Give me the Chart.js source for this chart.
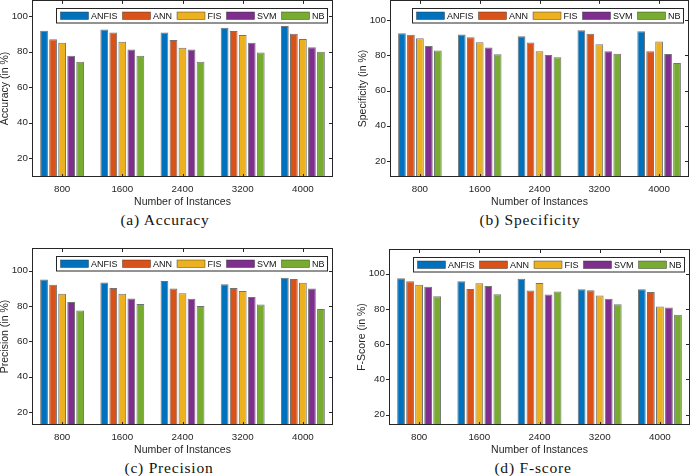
<!DOCTYPE html>
<html lang="en">
<head>
<meta charset="UTF-8">
<title>Performance comparison</title>
<style>
    body {
        margin: 0;
        width: 690px;
        height: 476px;
        background: #fff;
        position: relative;
        overflow: hidden;
        font-family: 'Liberation Sans', Arial, sans-serif;
    }
    canvas {
        position: absolute;
    }
    .caption {
        position: absolute;
        transform: translate(-50%, -50%);
        font-family: 'Liberation Serif', serif;
        font-size: 15.5px;
        letter-spacing: 0.8px;
        color: #111;
        white-space: nowrap;
    }
</style>
<script src="https://cdn.jsdelivr.net/npm/chart.js"></script>
</head>
<body>
<canvas id="accChart" width="345" height="218" style="left:0px;top:-10px"></canvas>
<canvas id="specChart" width="332" height="218" style="left:358px;top:-10px"></canvas>
<canvas id="precChart" width="345" height="218" style="left:0px;top:238px"></canvas>
<canvas id="fChart" width="333" height="218" style="left:357px;top:238px"></canvas>

<div class="caption" style="left:165px;top:220px">(a) Accuracy</div>
<div class="caption" style="left:530px;top:220px">(b) Specificity</div>
<div class="caption" style="left:169px;top:468px">(c) Precision</div>
<div class="caption" style="left:533px;top:468px">(d) F-score</div>

<script>
// data
const instances = ['800', '1600', '2400', '3200', '4000'];
const methods = ['ANFIS', 'ANN', 'FIS', 'SVM', 'NB'];
const yTicks = [20, 40, 60, 80, 100];

// rows = methods (ANFIS, ANN, FIS, SVM, NB), columns = instances
const accuracy = [
    [91.9, 92.5, 90.8, 93.6, 94.5],
    [87.0, 90.8, 86.6, 91.7, 90.2],
    [85.1, 85.7, 82.3, 89.4, 87.2],
    [77.7, 81.3, 81.3, 85.1, 82.5],
    [74.3, 77.7, 74.3, 79.6, 80.0]
];
const specificity = [
    [92.6, 91.9, 90.9, 94.3, 93.8],
    [91.7, 90.4, 87.4, 92.3, 82.3],
    [89.8, 87.5, 82.3, 86.4, 87.9],
    [85.3, 84.5, 80.2, 82.3, 80.8],
    [82.8, 80.6, 78.9, 80.9, 75.7]
];
const precision = [
    [95.1, 93.4, 94.2, 92.3, 96.1],
    [92.1, 90.2, 90.0, 90.2, 95.3],
    [87.0, 87.0, 87.2, 88.5, 93.2],
    [82.3, 84.3, 84.2, 85.1, 90.0],
    [77.5, 81.1, 80.0, 80.9, 78.3]
];
const fscore = [
    [97.4, 95.7, 97.0, 91.1, 91.1],
    [95.7, 91.3, 90.4, 90.6, 89.6],
    [93.6, 94.5, 94.7, 87.5, 81.3],
    [92.5, 93.0, 88.1, 85.7, 80.8],
    [87.2, 88.3, 89.8, 82.6, 76.6]
];

const colors = ['#0072BD', '#D95319', '#EDB120', '#7E2F8E', '#77AC30'];
const axisColor = '#262626';

// box around the plot with matlab style ticks
const framePlugin = {
    id: 'frame',
    afterDatasetsDraw(chart) {
        const ctx = chart.ctx;
        const a = chart.chartArea;
        const x = chart.scales.x, y = chart.scales.y;
        ctx.save();
        ctx.strokeStyle = axisColor;
        ctx.lineWidth = 1;
        ctx.strokeRect(Math.round(a.left) + 0.5, Math.round(a.top) + 0.5,
            Math.round(a.right - a.left) - 1, Math.round(a.bottom - a.top) - 1);
        ctx.beginPath();
        y.ticks.forEach(t => {
            const py = Math.round(y.getPixelForValue(t.value)) + 0.5;
            ctx.moveTo(a.left - 3, py); ctx.lineTo(a.left, py);
            ctx.moveTo(a.right - 4, py); ctx.lineTo(a.right, py);
        });
        instances.forEach((c, i) => {
            const px = Math.round(x.getPixelForValue(i)) + 0.5;
            ctx.moveTo(px, a.bottom); ctx.lineTo(px, a.bottom - 3);
            ctx.moveTo(px, a.top); ctx.lineTo(px, a.top + 4);
        });
        ctx.stroke();
        ctx.restore();
    }
};

// horizontal boxed legend in the top right corner
const legendPlugin = {
    id: 'boxLegend',
    afterDraw(chart) {
        const ctx = chart.ctx;
        const a = chart.chartArea;
        ctx.save();
        ctx.font = '9px "Liberation Sans", Arial, sans-serif';
        const tokenW = 28, tokenH = 7.5, gapTxt = 2.5, gapItem = 5, padL = 4, padR = 3;
        const widths = chart.data.datasets.map(d => ctx.measureText(d.label).width);
        let total = padL + padR;
        widths.forEach((w, i) => { total += tokenW + gapTxt + w + (i ? gapItem : 0); });
        const boxH = 14.5;
        const bx = Math.round(a.right - 6 - total) + 0.5;
        const by = Math.round(a.top + 8) + 0.5;
        ctx.fillStyle = '#fff';
        ctx.fillRect(bx, by, total, boxH);
        ctx.strokeStyle = axisColor;
        ctx.lineWidth = 1;
        ctx.strokeRect(bx, by, total, boxH);
        let cx = bx + padL;
        const cy = by + boxH / 2;
        chart.data.datasets.forEach((d, i) => {
            ctx.fillStyle = d.backgroundColor;
            ctx.fillRect(cx, cy - tokenH / 2, tokenW, tokenH);
            ctx.strokeStyle = 'rgba(40,40,40,0.7)';
            ctx.lineWidth = 0.6;
            ctx.strokeRect(cx, cy - tokenH / 2, tokenW, tokenH);
            cx += tokenW + gapTxt;
            ctx.fillStyle = '#111';
            ctx.textBaseline = 'middle';
            ctx.textAlign = 'left';
            ctx.fillText(d.label, cx, cy + 0.5);
            cx += widths[i] + gapItem;
        });
        ctx.restore();
    }
};

function makeChart(id, values, yTitle, yMin, yMax, pad) {
    const datasets = methods.map((m, i) => ({
        label: m,
        data: values[i],
        backgroundColor: colors[i],
        borderColor: 'rgba(90,90,90,0.85)',
        borderWidth: 1,
        categoryPercentage: 0.75,
        barPercentage: 0.86
    }));
    return new Chart(document.getElementById(id), {
        type: 'bar',
        data: { labels: instances, datasets: datasets },
        options: {
            responsive: false,
            animation: false,
            devicePixelRatio: 1,
            layout: { padding: pad },
            plugins: {
                legend: { display: false },
                tooltip: { enabled: false }
            },
            scales: {
                x: {
                    grid: { display: false, drawTicks: false },
                    border: { display: false },
                    ticks: {
                        color: axisColor,
                        padding: 6,
                        font: { family: '"Liberation Sans", Arial, sans-serif', size: 9.8 }
                    },
                    title: {
                        display: true,
                        text: 'Number of Instances',
                        color: axisColor,
                        padding: 0,
                        font: { family: '"Liberation Sans", Arial, sans-serif', size: 10.5 }
                    },
                    afterFit(scale) { scale.height = 31; }
                },
                y: {
                    min: yMin,
                    max: yMax,
                    grid: { display: false, drawTicks: false },
                    border: { display: false },
                    ticks: {
                        color: axisColor,
                        padding: 4,
                        font: { family: '"Liberation Sans", Arial, sans-serif', size: 9.8 }
                    },
                    afterBuildTicks(scale) {
                        scale.ticks = yTicks.map(v => ({ value: v }));
                    },
                    title: {
                        display: true,
                        text: yTitle,
                        color: axisColor,
                        padding: 0,
                        font: { family: '"Liberation Sans", Arial, sans-serif', size: 10.5, lineHeight: 0.9 }
                    },
                    afterFit(scale) { scale.width = 32; }
                }
            }
        },
        plugins: [framePlugin, legendPlugin]
    });
}

makeChart('accChart', accuracy, 'Accuracy (in %)', 9.2, 109.3, { top: 9, right: 12, left: 0, bottom: 0 });
makeChart('specChart', specificity, 'Specificity (in %)', 10.8, 111.6, { top: 9, right: 1, left: 0, bottom: 0 });
makeChart('precChart', precision, 'Precision (in %)', 12.6, 112.9, { top: 10, right: 12, left: 0, bottom: 0 });
makeChart('fChart', fscore, 'F-Score (in %)', 14.2, 113.9, { top: 11, right: 0, left: 0, bottom: 0 });
</script>
</body>
</html>
